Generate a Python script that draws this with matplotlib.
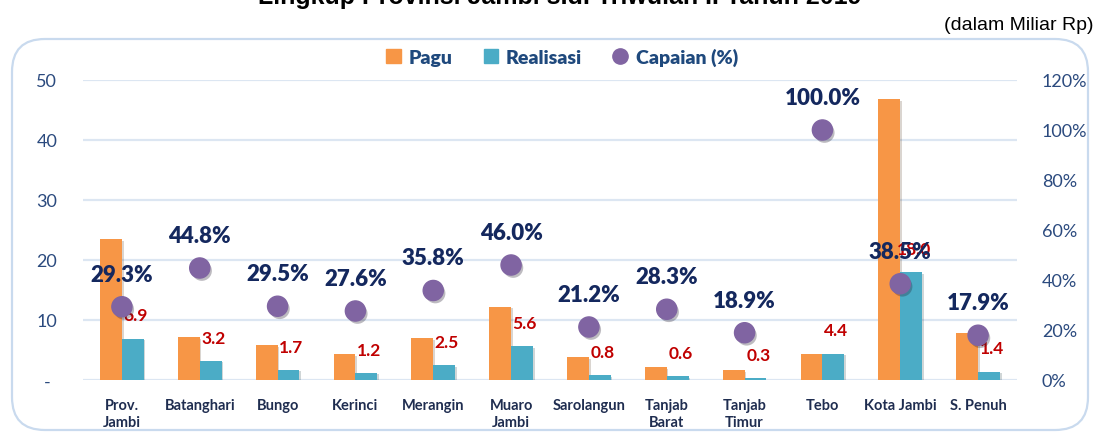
import matplotlib
matplotlib.use("Agg")
import matplotlib.pyplot as plt
import numpy as np
from matplotlib.lines import Line2D
from matplotlib.patches import FancyBboxPatch, Patch
from matplotlib import patheffects as pe
from matplotlib.ticker import FuncFormatter, MultipleLocator

plt.rcParams["font.family"] = ["Lato", "DejaVu Sans"]

# data (miliar Rp / %)
regions = ["Prov.\nJambi", "Batanghari", "Bungo", "Kerinci", "Merangin", "Muaro\nJambi",
           "Sarolangun", "Tanjab\nBarat", "Tanjab\nTimur", "Tebo", "Kota Jambi", "S. Penuh"]
pagu = [23.5, 7.1, 5.8, 4.3, 7.0, 12.2, 3.8, 2.1, 1.6, 4.4, 46.8, 7.8]
realisasi = [6.9, 3.2, 1.7, 1.2, 2.5, 5.6, 0.8, 0.6, 0.3, 4.4, 18.0, 1.4]
capaian = [29.3, 44.8, 29.5, 27.6, 35.8, 46.0, 21.2, 28.3, 18.9, 100.0, 38.5, 17.9]

ORANGE = "#F79646"
CYAN = "#4BACC6"
PURPLE = "#8064A2"
GRID = "#DCE6F2"
TICK = "#2B4A7E"
NAVY = "#14285E"
RED = "#C00000"

W, H = 1097, 435
fig = plt.figure(figsize=(W / 100, H / 100), dpi=100)

# rounded frame
frame = FancyBboxPatch((12 / W, 4 / H), 1076 / W, 391 / H,
                       boxstyle="round,pad=0,rounding_size=0.03",
                       transform=fig.transFigure, facecolor="none",
                       edgecolor="#C9DAEE", linewidth=1.6, mutation_aspect=W / H)
fig.patches.append(frame)

ax = fig.add_axes([83 / W, 1 - 381 / H, 934 / W, 300 / H])
x = np.arange(len(regions))
bw = 0.28
shadow = [pe.SimplePatchShadow(offset=(1.2, -1.2), alpha=0.2), pe.Normal()]
ax.bar(x - bw / 2, pagu, bw, color=ORANGE, zorder=2, path_effects=shadow)
ax.bar(x + bw / 2, realisasi, bw, color=CYAN, zorder=2, path_effects=shadow)

ax.set_xlim(-0.5, len(regions) - 0.5)
ax.set_ylim(0, 50)
ax.yaxis.set_major_locator(MultipleLocator(10))
ax.yaxis.set_major_formatter(FuncFormatter(lambda v, p: "-" if v == 0 else f"{v:.0f}"))
ax.grid(axis="y", color=GRID, linewidth=1.6, zorder=0)
ax.set_axisbelow(True)
for s in ax.spines.values():
    s.set_visible(False)
ax.tick_params(axis="y", length=0, pad=26, labelsize=13, labelcolor=TICK)
ax.tick_params(axis="x", length=0, pad=13)
ax.set_xticks(x)
ax.set_xticklabels(regions, fontsize=10.5, fontweight="bold", color="#1F2D50", linespacing=1.3)
for lbl in ax.get_yticklabels():
    lbl.set_horizontalalignment("center")

for xi, v in zip(x, realisasi):
    ax.annotate(f"{v:.1f}", (xi + bw / 2, v), xytext=(2, 11), textcoords="offset points",
                ha="center", va="bottom", fontsize=12.5, fontweight="bold", color=RED, zorder=5)

ax2 = ax.twinx()
ax2.set_ylim(0, 120)
ax2.yaxis.set_major_locator(MultipleLocator(20))
ax2.yaxis.set_major_formatter(FuncFormatter(lambda v, p: f"{v:.0f}%"))
for s in ax2.spines.values():
    s.set_visible(False)
ax2.tick_params(axis="y", length=0, pad=18, labelsize=13, labelcolor=TICK)
ax2.scatter(x, capaian, s=210, color=PURPLE, zorder=4,
            path_effects=[pe.SimplePatchShadow(offset=(1.5, -2), alpha=0.3), pe.Normal()])
for xi, v in zip(x, capaian):
    ax2.annotate(f"{v:.1f}%", (xi, v), xytext=(0, 16), textcoords="offset points",
                 ha="center", va="bottom", fontsize=16, fontweight="heavy", color=NAVY, zorder=6)

handles = [Patch(color=ORANGE), Patch(color=CYAN),
           Line2D([], [], marker="o", linestyle="none", color=PURPLE, markersize=11)]
leg = fig.legend(handles, ["Pagu", "Realisasi", "Capaian (%)"], ncol=3, loc="center",
                 bbox_to_anchor=(562 / W, 1 - 58 / H), frameon=False, handlelength=0.75,
                 handleheight=0.75, handletextpad=0.4, columnspacing=1.6,
                 prop={"size": 14, "weight": "heavy"})
for t in leg.get_texts():
    t.set_color("#1F497D")

fig.text(1093 / W, 1 - 25 / H, "(dalam Miliar Rp)", ha="right", va="center",
         fontsize=14, family=["Liberation Sans Narrow", "Liberation Sans"])
fig.text(560 / W, 1 - 4 / H, "Lingkup Provinsi Jambi s.d. Triwulan II Tahun 2019",
         ha="center", va="baseline", fontsize=18, fontweight="bold", family="Liberation Sans")

fig.savefig("out.png", dpi=100)
